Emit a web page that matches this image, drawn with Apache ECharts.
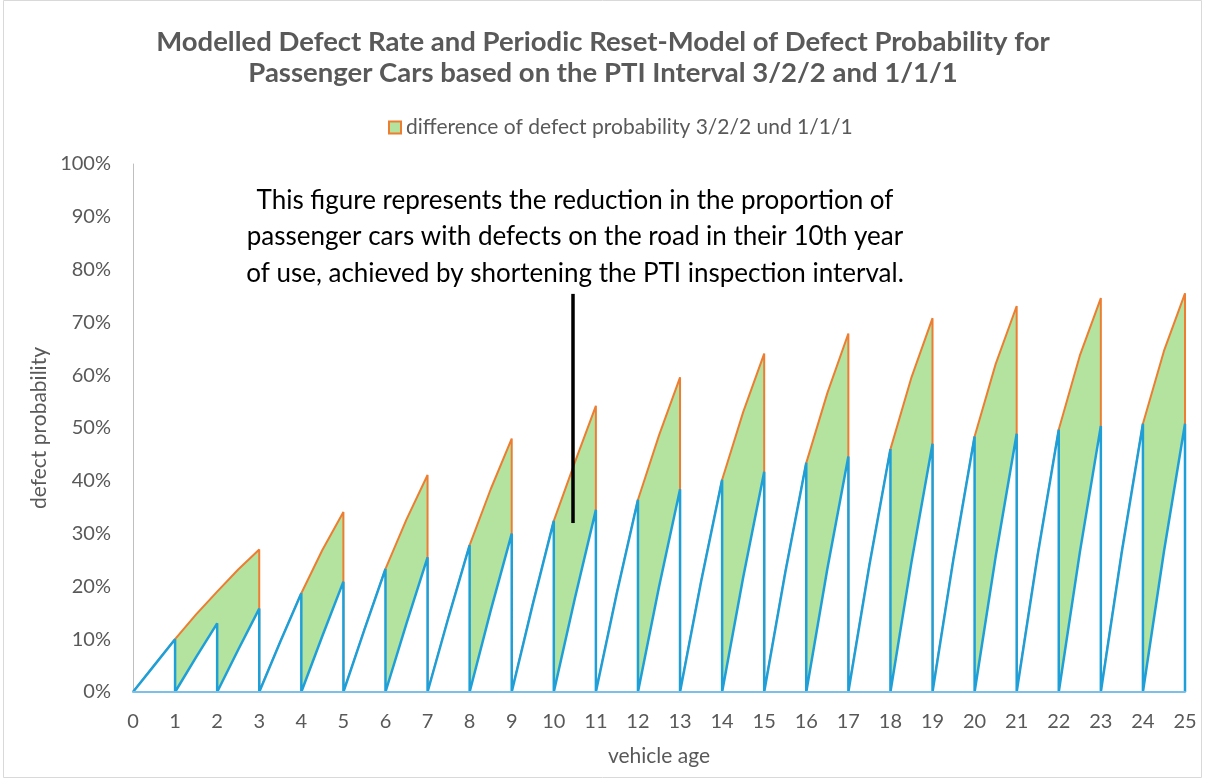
<!DOCTYPE html>
<html><head><meta charset="utf-8">
<script src="https://cdn.jsdelivr.net/npm/echarts@6/dist/echarts.min.js"></script>
<style>html,body{margin:0;padding:0;background:#fff}#c{width:1206px;height:782px}</style>
</head><body><div id="c"></div>
<script>
// vehicle age ticks
const vehicleAge = [0,1,2,3,4,5,6,7,8,9,10,11,12,13,14,15,16,17,18,19,20,21,22,23,24,25];
// 1/1/1 interval: defect probability (%) at mid-year and at end of each year k=1..25 (reset to 0 after each inspection)
const blueMid = [5.0,6.6,8.0,9.5,10.6,11.8,13.0,14.2,15.4,16.6,17.7,18.8,19.9,20.9,21.7,22.6,23.3,24.0,24.6,25.3,25.6,26.0,26.4,26.6,26.6];
const blueEnd = [10.0,13.0,15.8,18.7,20.9,23.3,25.5,27.8,30.0,32.4,34.5,36.4,38.4,40.2,41.7,43.4,44.6,46.0,47.0,48.4,48.9,49.7,50.4,50.8,50.8];
// 3/2/2 interval: defect probability (%) at mid-year and at end of each year k=1..25
const orangeMid = [5.0,14.7,23.2,9.5,26.9,11.8,32.7,14.2,38.4,16.6,43.5,18.8,48.6,20.9,53.0,22.6,56.6,24.0,59.6,25.3,62.1,26.0,63.7,26.6,64.6];
const orangeEnd = [10.0,19.0,27.0,18.7,34.1,23.3,41.1,27.8,48.0,32.4,54.2,36.4,59.6,40.2,64.1,43.4,67.9,46.0,70.8,48.4,73.1,49.7,74.6,50.8,75.5];
// years with an inspection (reset) under the 3/2/2 scheme
const inspections322 = [3,5,7,9,11,13,15,17,19,21,23,25];
const yTicks = [0,10,20,30,40,50,60,70,80,90,100];

const blueData = [[vehicleAge[0], 0]];
for (let k = 1; k < vehicleAge.length; k++) {
  blueData.push([k - 0.5, blueMid[k-1]], [vehicleAge[k], blueEnd[k-1]], [vehicleAge[k], 0]);
}
const orangeData = [[vehicleAge[0], 0]];
for (let k = 1; k < vehicleAge.length; k++) {
  orangeData.push([k - 0.5, orangeMid[k-1]], [vehicleAge[k], orangeEnd[k-1]]);
  if (inspections322.includes(k)) orangeData.push([vehicleAge[k], 0]);
}

const FONT = 'Lato';
const GREY = '#595959';
const chart = echarts.init(document.getElementById('c'), null, {renderer:'canvas'});
chart.setOption({
  animation: false,
  backgroundColor: '#fff',
  title: {
    text: 'Modelled Defect Rate and Periodic Reset-Model of Defect Probability for\nPassenger Cars based on the PTI Interval 3/2/2 and 1/1/1',
    left: 'center', top: 22,
    textStyle: {fontFamily: FONT, fontWeight: 'bold', fontSize: 27.5, color: GREY, lineHeight: 31}
  },
  legend: {
    top: 112, left: 383,
    itemWidth: 12, itemHeight: 12, itemGap: 6,
    textStyle: {fontFamily: FONT, fontSize: 21, color: GREY},
    data: [{name: 'difference of defect probability 3/2/2 und 1/1/1', icon: 'rect',
      itemStyle: {color: '#b3e39f', borderColor: '#ED7D31', borderWidth: 2}}]
  },
  graphic: [
    {type: 'rect', silent: true, shape: {x: 3.5, y: 0.5, width: 1198, height: 777}, style: {fill: 'none', stroke: '#d9d9d9', lineWidth: 1}},
    {type: 'text', silent: true, x: 575, y: 182,
      style: {text: 'This figure represents the reduction in the proportion of\npassenger cars with defects on the road in their 10th year\nof use, achieved by shortening the PTI inspection interval.',
        fontFamily: FONT, fontSize: 26, lineHeight: 36.5, fill: '#000', align: 'center', verticalAlign: 'top'}}
  ],
  grid: {left: 133, right: 21, top: 164, bottom: 90},
  xAxis: {
    type: 'value', min: 0, max: 25, interval: 1, z: 10,
    name: 'vehicle age', nameLocation: 'middle', nameGap: 54,
    nameTextStyle: {fontFamily: FONT, fontSize: 21, color: GREY},
    axisLine: {show: true, lineStyle: {color: '#7cc0e8', width: 2}},
    axisTick: {show: false},
    splitLine: {show: false},
    axisLabel: {margin: 20, fontFamily: FONT, fontSize: 20, color: GREY}
  },
  yAxis: {
    type: 'value', min: yTicks[0], max: yTicks[yTicks.length-1], interval: 10,
    name: 'defect probability', nameLocation: 'middle', nameGap: 76,
    nameTextStyle: {fontFamily: FONT, fontSize: 21, color: GREY},
    axisLine: {show: true, lineStyle: {color: '#bfbfbf', width: 1}},
    axisTick: {show: false},
    splitLine: {show: false},
    axisLabel: {margin: 22, fontFamily: FONT, fontSize: 20, color: GREY, formatter: '{value}%'}
  },
  series: [
    {
      name: 'difference of defect probability 3/2/2 und 1/1/1',
      type: 'line', data: orangeData, symbol: 'none', z: 2,
      lineStyle: {color: '#ED7D31', width: 2},
      itemStyle: {color: '#b3e39f', borderColor: '#ED7D31'},
      areaStyle: {color: '#b3e39f', opacity: 1}
    },
    {
      name: '1/1/1', type: 'line', data: blueData, symbol: 'none', z: 3,
      lineStyle: {color: '#1f9fd8', width: 2.5},
      areaStyle: {color: '#ffffff', opacity: 1},
      markLine: {
        silent: true, symbol: 'none', label: {show: false},
        lineStyle: {color: '#000', width: 3.5, type: 'solid'},
        data: [[{coord: [10.46, 32.0]}, {coord: [10.46, 75.4]}]]
      }
    }
  ]
});
</script></body></html>
